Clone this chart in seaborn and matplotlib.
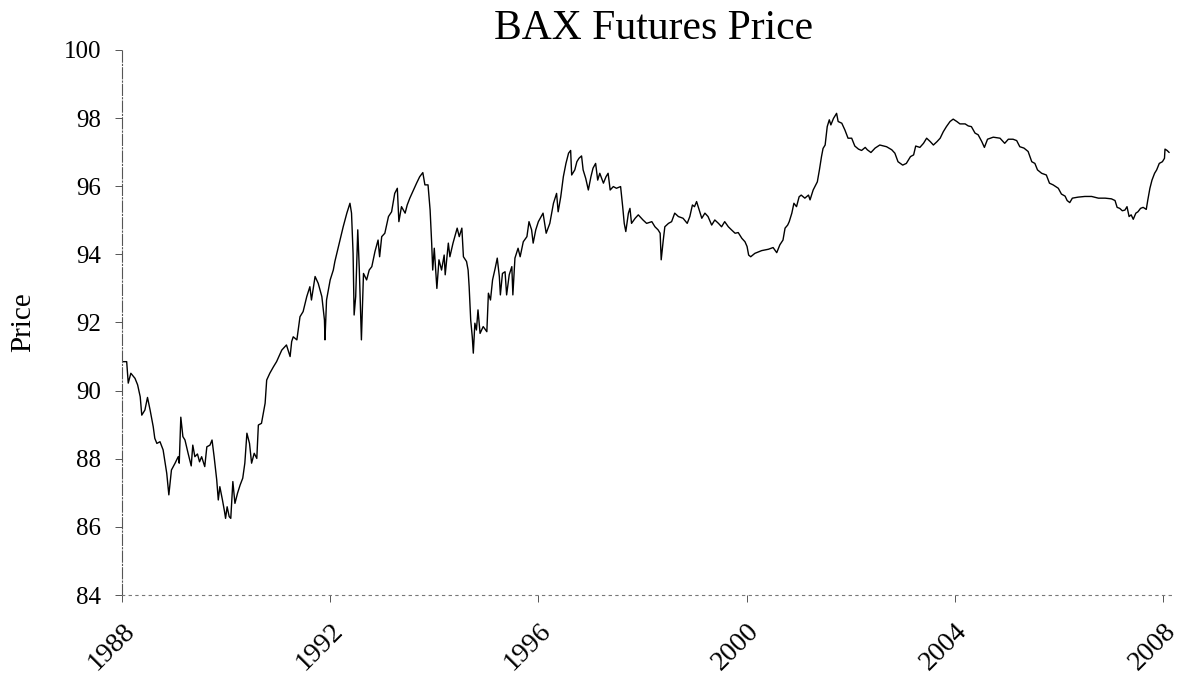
import matplotlib
matplotlib.use("Agg")
import matplotlib.pyplot as plt
import pandas as pd
import seaborn as sns

# valeurs (année décimale, prix)
years = [
    1988.00, 1988.09, 1988.12, 1988.17, 1988.25, 1988.30, 1988.35, 1988.38, 1988.44, 1988.49,
    1988.54, 1988.60, 1988.63, 1988.67, 1988.73, 1988.79, 1988.86, 1988.90, 1988.95, 1989.02,
    1989.08, 1989.10, 1989.13, 1989.17, 1989.21, 1989.27, 1989.33, 1989.36, 1989.40, 1989.45,
    1989.49, 1989.53, 1989.59, 1989.63, 1989.69, 1989.73, 1989.77, 1989.82, 1989.85, 1989.88,
    1989.93, 1989.97, 1989.99, 1990.02, 1990.06, 1990.09, 1990.13, 1990.17, 1990.22, 1990.27,
    1990.32, 1990.36, 1990.40, 1990.45, 1990.49, 1990.54, 1990.59, 1990.62, 1990.68, 1990.75,
    1990.78, 1990.84, 1990.91, 1990.97, 1991.07, 1991.16, 1991.23, 1991.26, 1991.29, 1991.36,
    1991.42, 1991.48, 1991.55, 1991.61, 1991.64, 1991.71, 1991.77, 1991.84, 1991.89, 1991.90,
    1991.93, 1992.00, 1992.06, 1992.09, 1992.19, 1992.25, 1992.32, 1992.38, 1992.41, 1992.44,
    1992.46, 1992.49, 1992.53, 1992.56, 1992.60, 1992.64, 1992.70, 1992.75, 1992.80, 1992.86,
    1992.92, 1992.95, 1992.99, 1993.05, 1993.12, 1993.18, 1993.24, 1993.29, 1993.32, 1993.37,
    1993.44, 1993.48, 1993.53, 1993.60, 1993.66, 1993.72, 1993.78, 1993.82, 1993.88, 1993.92,
    1993.95, 1993.97, 1994.00, 1994.05, 1994.09, 1994.14, 1994.19, 1994.21, 1994.27, 1994.30,
    1994.36, 1994.44, 1994.48, 1994.53, 1994.56, 1994.62, 1994.65, 1994.67, 1994.70, 1994.73,
    1994.75, 1994.78, 1994.81, 1994.84, 1994.88, 1994.94, 1995.01, 1995.04, 1995.08, 1995.12,
    1995.17, 1995.21, 1995.25, 1995.27, 1995.31, 1995.36, 1995.39, 1995.44, 1995.49, 1995.51,
    1995.55, 1995.61, 1995.65, 1995.71, 1995.78, 1995.82, 1995.87, 1995.90, 1995.95, 1996.00,
    1996.09, 1996.15, 1996.22, 1996.29, 1996.35, 1996.38, 1996.43, 1996.48, 1996.53, 1996.58,
    1996.62, 1996.64, 1996.70, 1996.74, 1996.78, 1996.83, 1996.86, 1996.91, 1996.96, 1997.01,
    1997.05, 1997.10, 1997.14, 1997.18, 1997.25, 1997.30, 1997.34, 1997.38, 1997.44, 1997.50,
    1997.58, 1997.62, 1997.65, 1997.68, 1997.73, 1997.76, 1997.79, 1997.86, 1997.92, 1998.01,
    1998.08, 1998.18, 1998.24, 1998.30, 1998.34, 1998.36, 1998.40, 1998.43, 1998.50, 1998.56,
    1998.62, 1998.69, 1998.78, 1998.86, 1998.91, 1998.96, 1999.00, 1999.04, 1999.09, 1999.14,
    1999.20, 1999.26, 1999.33, 1999.39, 1999.46, 1999.52, 1999.58, 1999.65, 1999.71, 1999.78,
    1999.84, 1999.91, 1999.97, 2000.01, 2000.04, 2000.08, 2000.16, 2000.29, 2000.42, 2000.51,
    2000.58, 2000.64, 2000.70, 2000.74, 2000.79, 2000.82, 2000.87, 2000.91, 2000.96, 2001.01,
    2001.05, 2001.12, 2001.19, 2001.22, 2001.28, 2001.36, 2001.40, 2001.44, 2001.47, 2001.51,
    2001.55, 2001.59, 2001.62, 2001.67, 2001.73, 2001.76, 2001.83, 2001.89, 2001.95, 2002.02,
    2002.08, 2002.15, 2002.21, 2002.28, 2002.32, 2002.39, 2002.47, 2002.56, 2002.69, 2002.79,
    2002.85, 2002.91, 2003.00, 2003.07, 2003.15, 2003.21, 2003.25, 2003.33, 2003.40, 2003.46,
    2003.53, 2003.59, 2003.66, 2003.72, 2003.78, 2003.84, 2003.91, 2003.97, 2004.04, 2004.10,
    2004.20, 2004.26, 2004.32, 2004.39, 2004.45, 2004.52, 2004.57, 2004.63, 2004.74, 2004.87,
    2004.96, 2005.03, 2005.12, 2005.19, 2005.25, 2005.33, 2005.41, 2005.48, 2005.54, 2005.59,
    2005.67, 2005.76, 2005.82, 2005.89, 2005.99, 2006.05, 2006.12, 2006.16, 2006.21, 2006.26,
    2006.37, 2006.50, 2006.63, 2006.76, 2006.89, 2007.01, 2007.08, 2007.12, 2007.17, 2007.22,
    2007.27, 2007.31, 2007.35, 2007.39, 2007.43, 2007.48, 2007.52, 2007.57, 2007.62, 2007.68,
    2007.71, 2007.75, 2007.79, 2007.84, 2007.88, 2007.93, 2007.99, 2008.03, 2008.04, 2008.08,
    2008.12,
]
prices = [
    90.85, 90.85, 90.22, 90.51, 90.36, 90.17, 89.82, 89.28, 89.43, 89.80,
    89.43, 88.94, 88.60, 88.45, 88.50, 88.26, 87.57, 86.94, 87.67, 87.87,
    88.06, 87.87, 89.22, 88.65, 88.55, 88.16, 87.79, 88.40, 88.06, 88.14,
    87.91, 88.06, 87.77, 88.35, 88.40, 88.55, 88.06, 87.38, 86.79, 87.18,
    86.79, 86.45, 86.25, 86.59, 86.30, 86.25, 87.33, 86.69, 86.99, 87.23,
    87.43, 87.87, 88.75, 88.45, 87.87, 88.16, 88.01, 88.99, 89.04, 89.63,
    90.31, 90.51, 90.70, 90.85, 91.19, 91.34, 91.00, 91.44, 91.58, 91.49,
    92.17, 92.32, 92.76, 93.05, 92.66, 93.35, 93.15, 92.76, 92.07, 91.49,
    92.66, 93.25, 93.54, 93.79, 94.42, 94.81, 95.21, 95.50, 95.21, 94.03,
    92.22, 92.76, 94.72, 93.54, 91.49, 93.44, 93.25, 93.54, 93.64, 94.08,
    94.42, 93.93, 94.52, 94.62, 95.11, 95.25, 95.79, 95.94, 94.96, 95.40,
    95.21, 95.45, 95.65, 95.89, 96.09, 96.28, 96.40, 96.04, 96.04, 95.30,
    94.33, 93.54, 94.18, 93.00, 93.84, 93.54, 93.98, 93.40, 94.33, 93.93,
    94.33, 94.77, 94.52, 94.77, 93.93, 93.79, 93.54, 93.05, 92.07, 91.58,
    91.10, 91.98, 91.78, 92.37, 91.68, 91.88, 91.73, 92.86, 92.66, 93.25,
    93.59, 93.89, 93.35, 92.81, 93.44, 93.49, 92.81, 93.40, 93.64, 92.81,
    93.89, 94.18, 93.93, 94.37, 94.52, 94.96, 94.72, 94.33, 94.72, 94.96,
    95.21, 94.62, 94.91, 95.50, 95.79, 95.25, 95.69, 96.28, 96.67, 96.97,
    97.05, 96.33, 96.48, 96.72, 96.82, 96.89, 96.48, 96.23, 95.89, 96.28,
    96.53, 96.67, 96.18, 96.38, 96.09, 96.28, 96.38, 95.89, 95.99, 95.94,
    95.99, 95.40, 94.91, 94.67, 95.21, 95.35, 94.91, 95.06, 95.16, 95.01,
    94.91, 94.96, 94.81, 94.72, 94.62, 93.84, 94.42, 94.81, 94.91, 94.96,
    95.21, 95.11, 95.06, 94.91, 95.11, 95.45, 95.40, 95.55, 95.30, 95.06,
    95.21, 95.11, 94.86, 95.01, 94.91, 94.81, 94.96, 94.81, 94.72, 94.62,
    94.64, 94.47, 94.37, 94.23, 93.98, 93.93, 94.03, 94.11, 94.15, 94.20,
    94.05, 94.28, 94.42, 94.77, 94.86, 94.96, 95.21, 95.50, 95.40, 95.69,
    95.74, 95.65, 95.74, 95.60, 95.89, 96.13, 96.48, 96.87, 97.11, 97.21,
    97.75, 97.95, 97.80, 97.99, 98.14, 97.90, 97.85, 97.65, 97.41, 97.41,
    97.18, 97.09, 97.05, 97.14, 97.07, 96.99, 97.12, 97.21, 97.16, 97.07,
    96.97, 96.72, 96.62, 96.67, 96.87, 96.92, 97.18, 97.14, 97.26, 97.41,
    97.31, 97.21, 97.31, 97.41, 97.60, 97.75, 97.90, 97.97, 97.90, 97.83,
    97.83, 97.77, 97.75, 97.56, 97.51, 97.31, 97.14, 97.38, 97.44, 97.41,
    97.26, 97.38, 97.38, 97.34, 97.16, 97.12, 97.02, 96.72, 96.67, 96.48,
    96.38, 96.33, 96.09, 96.04, 95.94, 95.77, 95.71, 95.58, 95.52, 95.65,
    95.68, 95.70, 95.70, 95.65, 95.65, 95.63, 95.58, 95.38, 95.35, 95.28,
    95.30, 95.40, 95.11, 95.16, 95.03, 95.21, 95.25, 95.35, 95.38, 95.32,
    95.60, 95.94, 96.18, 96.38, 96.48, 96.67, 96.72, 96.82, 97.09, 97.05,
    96.99,
]
x_ticks = [1988, 1992, 1996, 2000, 2004, 2008]
y_ticks = [84, 86, 88, 90, 92, 94, 96, 98, 100]

df = pd.DataFrame({'year': years, 'price': prices})

sns.set_style("white")
plt.rcParams['font.family'] = ['Liberation Serif', 'DejaVu Serif']
plt.rcParams['text.color'] = 'black'
plt.rcParams['axes.labelcolor'] = 'black'

fig = plt.figure(figsize=(11.81, 6.79), dpi=100)
ax = fig.add_axes([0.1033, 0.1237, 0.888, 0.8027])
sns.lineplot(data=df, x='year', y='price', ax=ax, color='black',
             linewidth=1.0, estimator=None, sort=False)

ax.set_xlim(1988, 2008.15)
ax.set_ylim(84, 100)
ax.set_xticks(x_ticks)
ax.set_xticklabels([str(t) for t in x_ticks], rotation=45, ha='right',
                   rotation_mode='anchor', fontsize=20)
ax.set_yticks(y_ticks)
ax.set_yticklabels([str(t) for t in y_ticks], fontsize=18)
ax.tick_params(axis='both', direction='out', length=5, width=0.7,
               color='#555555', labelcolor='black', left=True, bottom=True)
ax.tick_params(axis='x', pad=12)
ax.tick_params(axis='y', pad=10)

for s in ['top', 'right']:
    ax.spines[s].set_visible(False)
ax.spines['left'].set_linestyle((0, (10, 2, 1, 2)))
ax.spines['left'].set_color('#555555')
ax.spines['left'].set_linewidth(0.8)
ax.spines['bottom'].set_linestyle((0, (2, 4)))
ax.spines['bottom'].set_color('#777777')
ax.spines['bottom'].set_linewidth(0.8)

ax.set_xlabel('')
ax.set_ylabel('Price', fontsize=21, labelpad=20)
fig.text(0.553, 0.942, 'BAX Futures Price', ha='center', va='baseline', fontsize=30)

fig.savefig("out.png", dpi=100)
